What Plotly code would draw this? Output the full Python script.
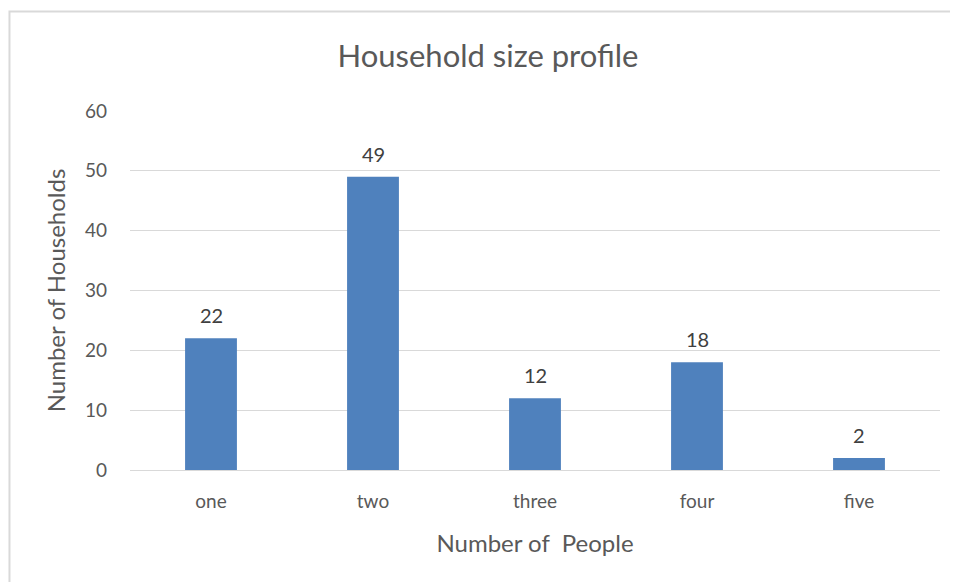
import plotly.graph_objects as go

# Data
sizes = ["one", "two", "three", "four", "five"]
households = [22, 49, 12, 18, 2]
y_ticks = [0, 10, 20, 30, 40, 50, 60]

fig = go.Figure()

fig.add_trace(go.Bar(
    x=sizes, y=households,
    marker=dict(color="#4f81bd", line=dict(width=0)),
))

# value labels sitting a little above each bar
for s, v in zip(sizes, households):
    fig.add_annotation(x=s, y=v, text=str(v), showarrow=False,
                       yanchor="bottom", yshift=9,
                       font=dict(size=20, color="#404040"))

# light frame around the chart, like the Excel chart border
fig.add_shape(type="rect", xref="paper", yref="paper",
              x0=-0.1488, x1=1.2, y0=-0.6, y1=1.277,
              line=dict(color="#d9d9d9", width=2), layer="below")

fig.update_layout(
    width=958, height=582,
    margin=dict(l=122, r=26, t=103, b=120),
    paper_bgcolor="white", plot_bgcolor="white",
    font=dict(family="Lato", color="#595959"),
    title=dict(text="Household size profile", x=0.501, xanchor="center",
               y=0.917, yanchor="middle",
               font=dict(size=31, color="#595959")),
    bargap=0.68,
    showlegend=False,
    xaxis=dict(
        title=dict(text="Number of  People", font=dict(size=24), standoff=24),
        tickfont=dict(size=19), ticks="", showline=True,
        linecolor="#d9d9d9", linewidth=1, ticklabelstandoff=14,
    ),
    yaxis=dict(
        title=dict(text="Number of Households", font=dict(size=24), standoff=12),
        range=[0, 60], tickvals=y_ticks, tickfont=dict(size=19),
        showgrid=True, gridcolor="#d9d9d9", gridwidth=1,
        zeroline=False, ticks="", ticklabelstandoff=22,
    ),
)

fig.write_html("out.html")
